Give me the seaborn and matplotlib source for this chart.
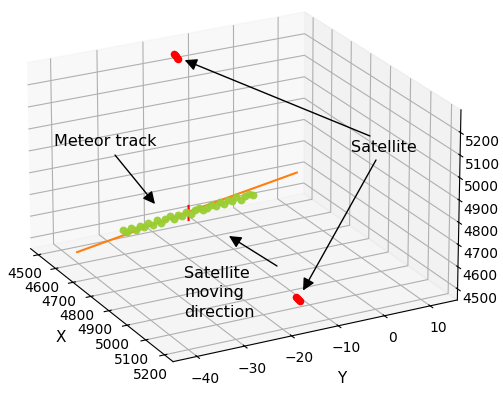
import numpy as np
import matplotlib
matplotlib.use("Agg")
import matplotlib.pyplot as plt
import seaborn as sns
from mpl_toolkits.mplot3d import proj3d

# ---- data ----
# meteor track (fitted line) end points
track_x = [4680, 4575]
track_y = [-43.3, 9.3]
track_z = [4568, 4649]

# meteor detections (green points)
met_y = [-32.5, -31.5, -30.5, -29.5, -28.5, -27.5, -26.5, -25.5, -24.5, -23.5, -22.5,
         -21.5, -20.5, -19.5, -18.5, -17.5, -16.5, -15.5, -14.5, -13.5, -12.5, -11.5,
         -10.5, -9.5, -8.5, -7.5, -6.5, -5.5, -4.5, -3.5, -2.5, -1.5]
met_x = [4656, 4654, 4652, 4650, 4649, 4647, 4645, 4643, 4641, 4639, 4637,
         4635, 4633, 4631, 4629, 4628, 4626, 4624, 4622, 4620, 4618, 4616,
         4614, 4612, 4610, 4608, 4607, 4605, 4603, 4601, 4599, 4597]
met_z = [4606, 4592, 4607, 4591, 4603, 4593, 4607, 4595, 4609, 4593, 4603,
         4611, 4593, 4607, 4597, 4609, 4593, 4607, 4612, 4598, 4603, 4610,
         4599, 4613, 4597, 4610, 4600, 4613, 4597, 4610, 4613, 4602]

# central reference mark (red)
mark_x = [4627, 4627]
mark_y = [-17, -17]
mark_z = [4570, 4635]

# satellite positions (two short tracks)
sat1_x = [4540, 4540, 4540, 4540, 4540]
sat1_y = [-16.6, -16.4, -16.2, -16.0, -15.8]
sat1_z = [5277, 5271, 5265, 5259, 5253]
sat2_x = [5150, 5150, 5150, 5150, 5150]
sat2_y = [-15.0, -14.8, -14.6, -14.4, -14.2]
sat2_z = [4541, 4535, 4529, 4523, 4517]

x_ticks = [4500, 4600, 4700, 4800, 4900, 5000, 5100, 5200]
y_ticks = [-40, -30, -20, -10, 0, 10]
z_ticks = [4500, 4600, 4700, 4800, 4900, 5000, 5100, 5200]

pal = sns.color_palette("tab10")

fig = plt.figure(figsize=(5.03, 3.96), dpi=100)
ax = fig.add_subplot(111, projection="3d")
ax.set_position([-0.042, -0.011, 1.02, 1.08])
ax.set_proj_type("persp", focal_length=2.0)
ax.set_box_aspect((4, 4, 2.55), zoom=1.12)

ax.plot(track_x, track_y, track_z, color=pal[1], lw=1.5)
ax.scatter(met_x, met_y, met_z, color="yellowgreen", s=32, depthshade=False,
           alpha=0.95, linewidths=0)
ax.plot(mark_x, mark_y, mark_z, color="red", lw=1.5)
ax.scatter(sat1_x, sat1_y, sat1_z, color="red", s=30, depthshade=False, linewidths=0)
ax.scatter(sat2_x, sat2_y, sat2_z, color="red", s=30, depthshade=False, linewidths=0)

ax.set_xlim(4455, 5245)
ax.set_ylim(-45, 16)
ax.set_zlim(4450, 5300)
ax.set_xticks(x_ticks)
ax.set_yticks(y_ticks)
ax.set_zticks(z_ticks)
ax.tick_params(labelsize=10, pad=0)
ax.set_xlabel("X", fontsize=11, labelpad=1)
ax.set_ylabel("Y", fontsize=11, labelpad=4)
ax.view_init(elev=22, azim=-28)

fig.canvas.draw()

def to_fig(x, y, z):
    px, py, _ = proj3d.proj_transform(x, y, z, ax.get_proj())
    disp = ax.transData.transform((px, py))
    return tuple(fig.transFigure.inverted().transform(disp))

arrow = dict(arrowstyle="-|>", color="black", lw=1, mutation_scale=18, shrinkA=0, shrinkB=7)

s1 = to_fig(sat1_x[2], sat1_y[2], sat1_z[2])
s2 = to_fig(sat2_x[2], sat2_y[2], sat2_z[2])
fig.text(384 / 503, 1 - 147 / 396, "Satellite", fontsize=11.5, ha="center", va="center")
ax.annotate("", xy=s1, xycoords="figure fraction", xytext=(370 / 503, 1 - 136 / 396),
            textcoords="figure fraction", arrowprops=arrow)
ax.annotate("", xy=s2, xycoords="figure fraction", xytext=(376 / 503, 1 - 160 / 396),
            textcoords="figure fraction", arrowprops=arrow)

fig.text(105 / 503, 1 - 142 / 396, "Meteor track", fontsize=11.5, ha="center", va="center")
ax.annotate("", xy=(155 / 503, 1 - 204 / 396), xycoords="figure fraction",
            xytext=(115 / 503, 1 - 155 / 396), textcoords="figure fraction",
            arrowprops=dict(arrow, shrinkB=0))

fig.text(184 / 503, 1 - 293 / 396, "Satellite\nmoving\ndirection", fontsize=11.5,
         ha="left", va="center", linespacing=1.35)
ax.annotate("", xy=(229 / 503, 1 - 236 / 396), xycoords="figure fraction",
            xytext=(277 / 503, 1 - 266 / 396), textcoords="figure fraction",
            arrowprops=dict(arrow, shrinkB=0))

fig.savefig("out.png", dpi=100)
